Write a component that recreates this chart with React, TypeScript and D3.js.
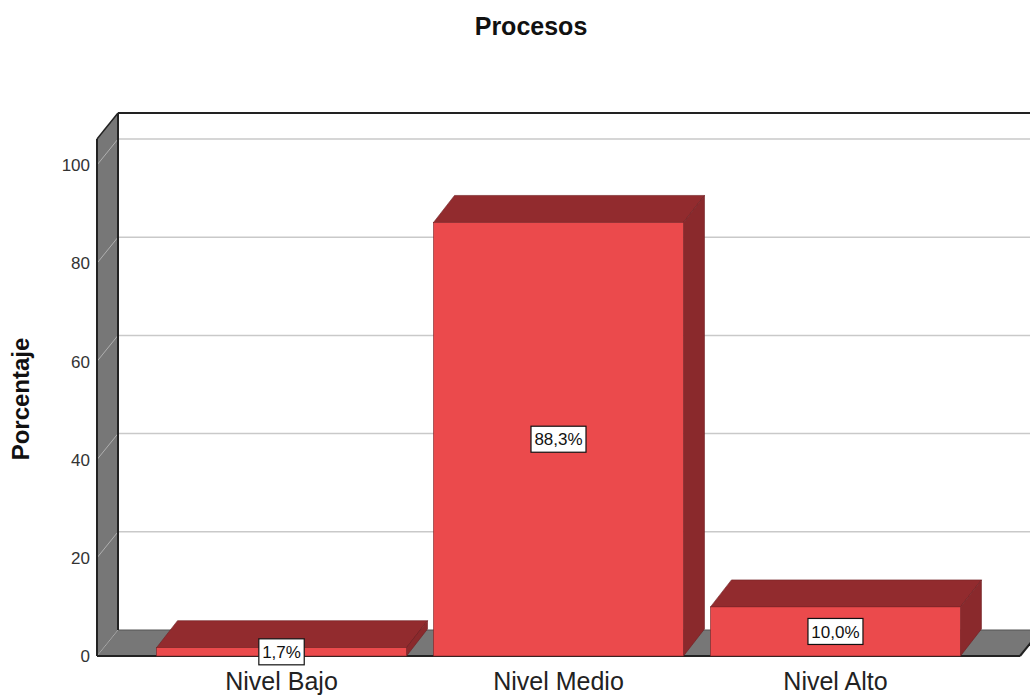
import React from "react";
import * as d3 from "d3";

// Chart data
const chartTitle = "Procesos";
const yAxisTitle = "Porcentaje";
const categories = ["Nivel Bajo", "Nivel Medio", "Nivel Alto"];
const percentages = [1.7, 88.3, 10.0];
const yTicks = [0, 20, 40, 60, 80, 100];

const W = 1030;
const H = 695;
const FONT = "'Liberation Sans', Arial, Helvetica, sans-serif";

// Oblique projection of the depth axis
const wallDX = 21;
const wallDY = -26;
const barDX = 21;
const barDY = -27;

const plotLeft = 97;
const plotRight = 1020;
const floorY = 656;

const y = d3.scaleLinear().domain([0, 100]).range([floorY, 165]);
const yTop = 105.3;

const x = d3
  .scaleBand<string>()
  .domain(categories)
  .range([plotLeft, plotRight])
  .paddingInner(0.0975)
  .paddingOuter(0.215);

const fmtPct = (v: number) => d3.format(".1f")(v).replace(".", ",") + "%";

const RED = "#EB4A4C";
const RED_TOP = "#922B2E";
const RED_SIDE = "#8A292C";
const GRAY = "#777777";

const pts = (arr: [number, number][]) => arr.map((p) => p.join(",")).join(" ");

export default function App() {
  const wallTopFront = y(yTop);
  return (
    <svg
      width={W}
      height={H}
      style={{ position: "absolute", left: 0, top: 0, background: "#fff" }}
    >
      {/* back wall */}
      <rect
        x={plotLeft + wallDX}
        y={wallTopFront + wallDY}
        width={W}
        height={floorY - wallTopFront}
        fill="#fff"
      />
      {/* gridlines on back wall */}
      {yTicks
        .filter((t) => t > 0)
        .map((t) => (
          <line
            key={"g" + t}
            x1={plotLeft + wallDX}
            x2={W + 40}
            y1={y(t) + wallDY}
            y2={y(t) + wallDY}
            stroke="#c9c9c9"
            strokeWidth={1.5}
          />
        ))}
      {/* side wall */}
      <polygon
        points={pts([
          [plotLeft, wallTopFront],
          [plotLeft + wallDX, wallTopFront + wallDY],
          [plotLeft + wallDX, floorY + wallDY],
          [plotLeft, floorY],
        ])}
        fill={GRAY}
      />
      {yTicks
        .filter((t) => t > 0)
        .map((t) => (
          <line
            key={"s" + t}
            x1={plotLeft}
            x2={plotLeft + wallDX}
            y1={y(t)}
            y2={y(t) + wallDY}
            stroke="#b0b0b0"
            strokeWidth={1}
          />
        ))}
      {/* floor */}
      <polygon
        points={pts([
          [plotLeft, floorY],
          [plotRight, floorY],
          [plotRight + wallDX, floorY + wallDY],
          [plotLeft + wallDX, floorY + wallDY],
        ])}
        fill={GRAY}
        stroke="#555"
        strokeWidth={1}
      />
      <line
        x1={plotLeft}
        x2={plotLeft + wallDX}
        y1={floorY}
        y2={floorY + wallDY}
        stroke="#aaa"
        strokeWidth={1}
      />
      {/* wall edges */}
      <line
        x1={plotLeft + wallDX}
        x2={plotLeft + wallDX}
        y1={wallTopFront + wallDY}
        y2={floorY + wallDY}
        stroke="#222"
        strokeWidth={2}
      />
      <line
        x1={plotLeft + wallDX}
        x2={W + 40}
        y1={wallTopFront + wallDY}
        y2={wallTopFront + wallDY}
        stroke="#222"
        strokeWidth={2}
      />
      <line
        x1={plotLeft}
        x2={plotLeft + wallDX}
        y1={wallTopFront}
        y2={wallTopFront + wallDY}
        stroke="#222"
        strokeWidth={1.5}
      />
      <line
        x1={plotLeft}
        x2={plotLeft}
        y1={wallTopFront}
        y2={floorY}
        stroke="#222"
        strokeWidth={2}
      />
      <line
        x1={plotLeft}
        x2={plotRight}
        y1={floorY}
        y2={floorY}
        stroke="#222"
        strokeWidth={2}
      />
      <line
        x1={plotRight}
        x2={plotRight + wallDX}
        y1={floorY}
        y2={floorY + wallDY}
        stroke="#222"
        strokeWidth={2}
      />

      {/* bars */}
      {categories.map((c, i) => {
        const x0 = x(c)!;
        const x1 = x0 + x.bandwidth();
        const yv = y(percentages[i]);
        return (
          <g key={c}>
            <polygon
              points={pts([
                [x0, yv],
                [x0 + barDX, yv + barDY],
                [x1 + barDX, yv + barDY],
                [x1, yv],
              ])}
              fill={RED_TOP}
              stroke="#6e1f21"
              strokeWidth={0.6}
            />
            <polygon
              points={pts([
                [x1, yv],
                [x1 + barDX, yv + barDY],
                [x1 + barDX, floorY + barDY],
                [x1, floorY],
              ])}
              fill={RED_SIDE}
              stroke="#6e1f21"
              strokeWidth={0.6}
            />
            <rect
              x={x0}
              y={yv}
              width={x1 - x0}
              height={floorY - yv}
              fill={RED}
              stroke="#7a2426"
              strokeWidth={0.6}
            />
          </g>
        );
      })}

      {/* value labels */}
      {categories.map((c, i) => {
        const cx = x(c)! + x.bandwidth() / 2;
        const cy = (y(percentages[i]) + floorY) / 2;
        const label = fmtPct(percentages[i]);
        const tw = label.length * 9.6 - 3;
        return (
          <g key={"l" + c}>
            <rect
              x={cx - tw / 2 - 5}
              y={cy - 13}
              width={tw + 10}
              height={26}
              fill="#fff"
              stroke="#111"
              strokeWidth={1.2}
            />
            <text
              x={cx}
              y={cy}
              dy="0.36em"
              textAnchor="middle"
              fontFamily={FONT}
              fontSize={17}
              fill="#111"
            >
              {label}
            </text>
          </g>
        );
      })}

      {/* y tick labels */}
      {yTicks.map((t) => (
        <text
          key={"t" + t}
          x={90}
          y={y(t)}
          dy="0.36em"
          textAnchor="end"
          fontFamily={FONT}
          fontSize={17}
          fill="#333"
        >
          {t}
        </text>
      ))}

      {/* category labels */}
      {categories.map((c) => (
        <text
          key={"c" + c}
          x={x(c)! + x.bandwidth() / 2}
          y={690}
          textAnchor="middle"
          fontFamily={FONT}
          fontSize={25}
          fill="#222"
        >
          {c}
        </text>
      ))}

      {/* titles */}
      <text
        x={531}
        y={35}
        textAnchor="middle"
        fontFamily={FONT}
        fontSize={25}
        fontWeight="bold"
        fill="#111"
      >
        {chartTitle}
      </text>
      <text
        transform={`translate(29,399) rotate(-90)`}
        textAnchor="middle"
        fontFamily={FONT}
        fontSize={24}
        fontWeight="bold"
        fill="#111"
      >
        {yAxisTitle}
      </text>
    </svg>
  );
}
